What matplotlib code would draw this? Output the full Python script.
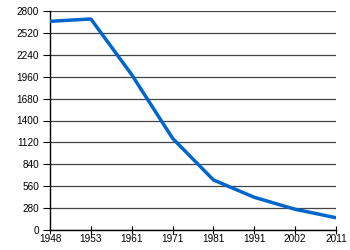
import matplotlib
matplotlib.use("Agg")
import matplotlib.pyplot as plt

years = ["1948", "1953", "1961", "1971", "1981", "1991", "2002", "2011"]
values = [2668, 2698, 1985, 1172, 640, 418, 265, 157]
yticks = [0, 280, 560, 840, 1120, 1400, 1680, 1960, 2240, 2520, 2800]

plt.rcParams['font.family'] = ['Liberation Sans', 'DejaVu Sans']
fig = plt.figure(figsize=(3.5, 2.5), dpi=100)
ax = fig.add_axes([0.143, 0.08, 0.817, 0.876])
x = list(range(len(years)))
ax.plot(x, values, color='#0066cc', linewidth=2.5, solid_joinstyle='round', zorder=3)
ax.set_xlim(0, len(years) - 1)
ax.set_ylim(0, 2800)
ax.set_xticks(x)
ax.set_xticklabels(years)
ax.set_yticks(yticks)
ax.tick_params(axis='both', labelsize=7.2, width=0.8, colors='black')
ax.tick_params(axis='y', length=5, pad=3)
ax.tick_params(axis='x', direction='inout', length=6, pad=0)
ax.yaxis.grid(True, color='#444444', linewidth=0.9)
ax.set_axisbelow(True)
for s in ['top', 'right']:
    ax.spines[s].set_visible(False)
for s in ['left', 'bottom']:
    ax.spines[s].set_linewidth(1.0)
    ax.spines[s].set_color('black')
fig.savefig('out.png', dpi=100)
